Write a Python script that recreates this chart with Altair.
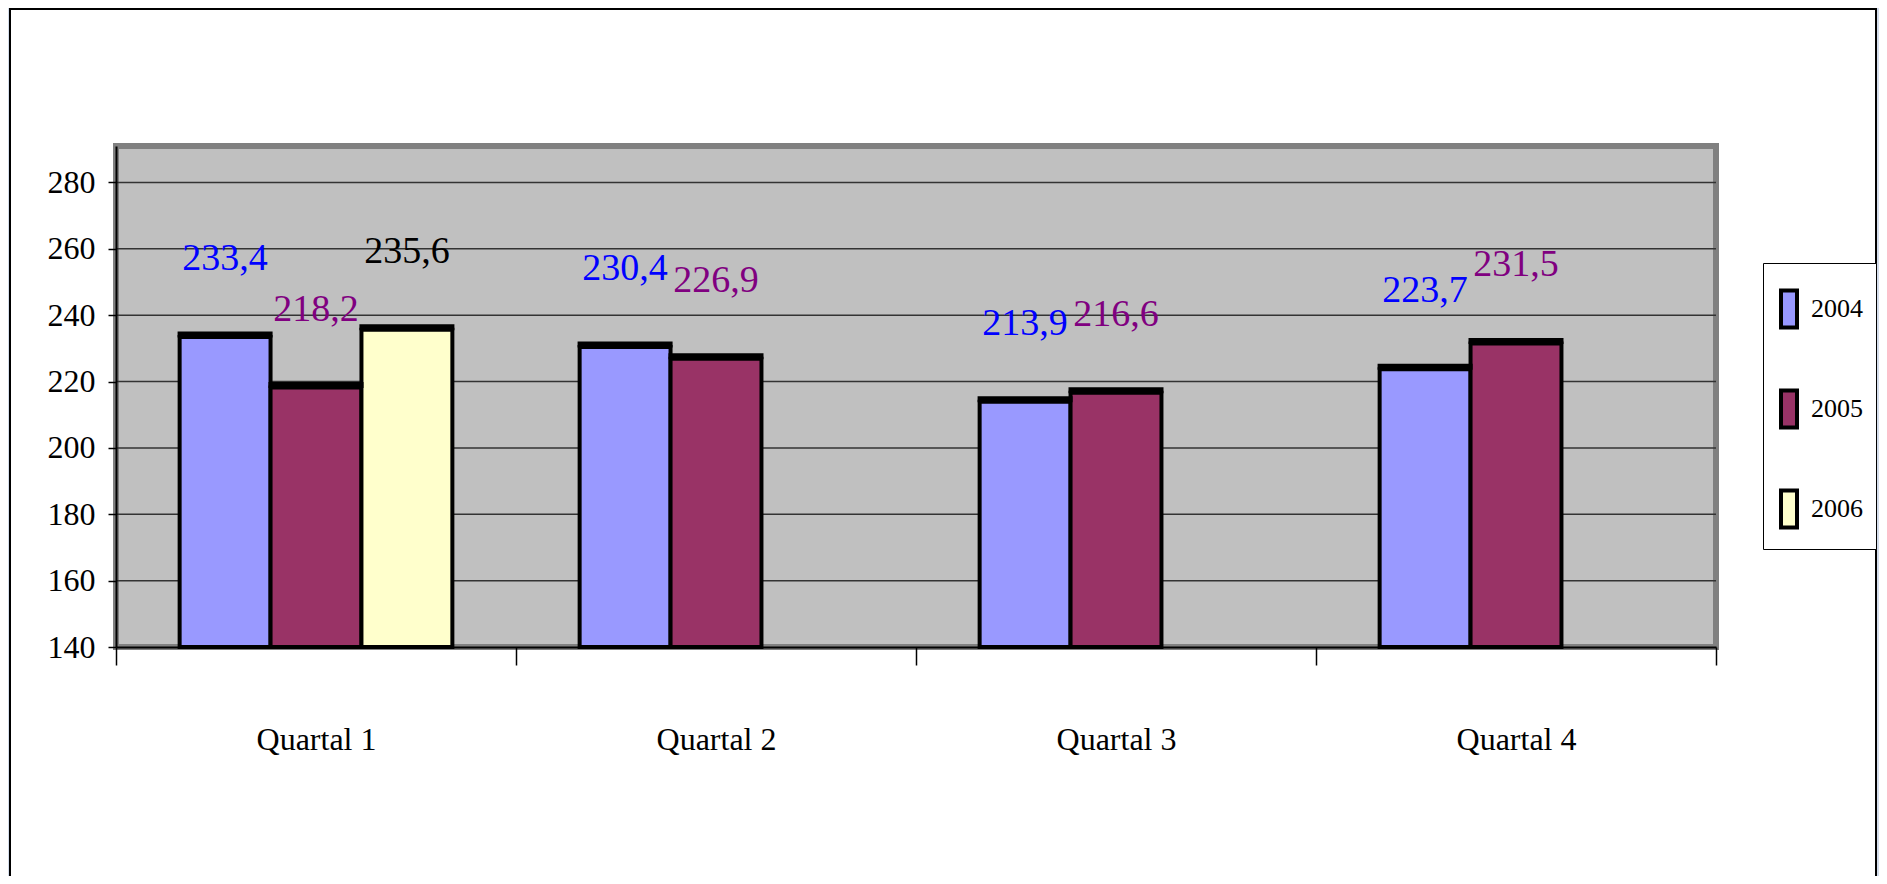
import altair as alt
import pandas as pd

# ---- data ----
quarters = ["Quartal 1", "Quartal 2", "Quartal 3", "Quartal 4"]
years = ["2004", "2005", "2006"]
v2004 = [233.4, 230.4, 213.9, 223.7]
v2005 = [218.2, 226.9, 216.6, 231.5]
v2006 = [235.6, None, None, None]
y_ticks = [140, 160, 180, 200, 220, 240, 260, 280]
grid_vals = [160, 180, 200, 220, 240, 260, 280]

bar_colors = ["#9999FF", "#993366", "#FFFFCC"]
label_colors = ["#0000FF", "#800080", "#000000"]

rows = []
for yr, series in zip(years, [v2004, v2005, v2006]):
    for q, v in zip(quarters, series):
        if v is not None:
            rows.append({"quarter": q, "year": yr, "value": v,
                         "label": f"{v:.1f}".replace(".", ",")})
df = pd.DataFrame(rows)

W, H = 1600, 501
FONT = "'Liberation Serif', 'Times New Roman', serif"
yscale = alt.Scale(domain=[140, 291], nice=False, zero=False)
xscale = alt.Scale(domain=quarters, paddingInner=0, paddingOuter=0)
xoff_scale = alt.Scale(domain=years, paddingInner=0, paddingOuter=0.7)

yaxis = alt.Axis(title=None, values=y_ticks, grid=False, tickSize=8,
                 tickColor="black", tickWidth=1.5, domainColor="black",
                 domainWidth=2, labelFont=FONT, labelFontSize=32,
                 labelColor="black", labelPadding=13, zindex=2)

one = pd.DataFrame({"a": [0]})

frame = alt.Chart(one).mark_rect(fill="white", stroke="black", strokeWidth=2).encode(
    x=alt.value(-106), x2=alt.value(1760), y=alt.value(-137), y2=alt.value(760)
)

plot_bg = alt.Chart(one).mark_rect(fill="#C0C0C0", stroke="#808080", strokeWidth=6).encode(
    x=alt.value(0), x2=alt.value(W), y=alt.value(0), y2=alt.value(H)
)

grid = alt.Chart(pd.DataFrame({"value": grid_vals})).mark_rule(color="#333333", strokeWidth=1.5).encode(
    y=alt.Y("value:Q", scale=yscale, axis=yaxis),
    x=alt.value(0), x2=alt.value(W)
)

bars = alt.Chart(df).mark_bar(stroke="black", strokeWidth=4, opacity=1).encode(
    x=alt.X("quarter:N", sort=quarters, scale=xscale,
            axis=alt.Axis(title=None, tickBand="extent", tickSize=18, tickColor="black",
                          tickWidth=1.5, domainColor="black", domainWidth=2,
                          labelFont=FONT, labelFontSize=32, labelColor="black",
                          labelBaseline="alphabetic", labelPadding=84, labelAngle=0,
                          zindex=2)),
    xOffset=alt.XOffset("year:N", scale=xoff_scale),
    y=alt.Y("value:Q", scale=yscale, axis=yaxis),
    y2=alt.datum(140),
    color=alt.Color("year:N", scale=alt.Scale(domain=years, range=bar_colors),
                    legend=alt.Legend(orient="none", legendX=1647, legendY=117,
                                      title=" ", titleFontSize=20, titlePadding=0,
                                      padding=13, fillColor="white", strokeColor="black",
                                      symbolType="M-1,-2.3H1V2.3H-1Z",
                                      symbolSize=256, symbolStrokeColor="black",
                                      symbolStrokeWidth=4, symbolOpacity=1,
                                      rowPadding=46, labelFont=FONT, labelFontSize=26,
                                      labelColor="black", labelOffset=9)),
)

tops = alt.Chart(df).mark_tick(color="black", thickness=6, yOffset=-2.5, opacity=1).encode(
    x=alt.X("quarter:N", sort=quarters, scale=xscale),
    xOffset=alt.XOffset("year:N", scale=xoff_scale),
    y=alt.Y("value:Q", scale=yscale, axis=yaxis),
    size=alt.value(95),
)

labels = alt.Chart(df).mark_text(font=FONT, fontSize=38, baseline="alphabetic",
                                 align="center", dy=-67).encode(
    x=alt.X("quarter:N", sort=quarters, scale=xscale),
    xOffset=alt.XOffset("year:N", scale=xoff_scale),
    y=alt.Y("value:Q", scale=yscale, axis=yaxis),
    text="label:N",
    color=alt.Color("year:N", scale=alt.Scale(domain=years, range=label_colors), legend=None),
)

chart = alt.layer(frame, plot_bg, grid, bars, tops, labels).resolve_scale(
    color="independent"
).properties(
    width=W, height=H,
    autosize=alt.AutoSizeParams(type="none"),
    padding={"left": 108, "top": 138, "right": 163, "bottom": 229},
    background="#D4DDEB",
).configure(
    font=FONT
).configure_axis(
    labelFont=FONT
).configure_legend(
    labelFont=FONT, titleFont=FONT
).configure_view(stroke="transparent")

chart.save("out.html", embed_options={"renderer": "svg", "actions": False})
